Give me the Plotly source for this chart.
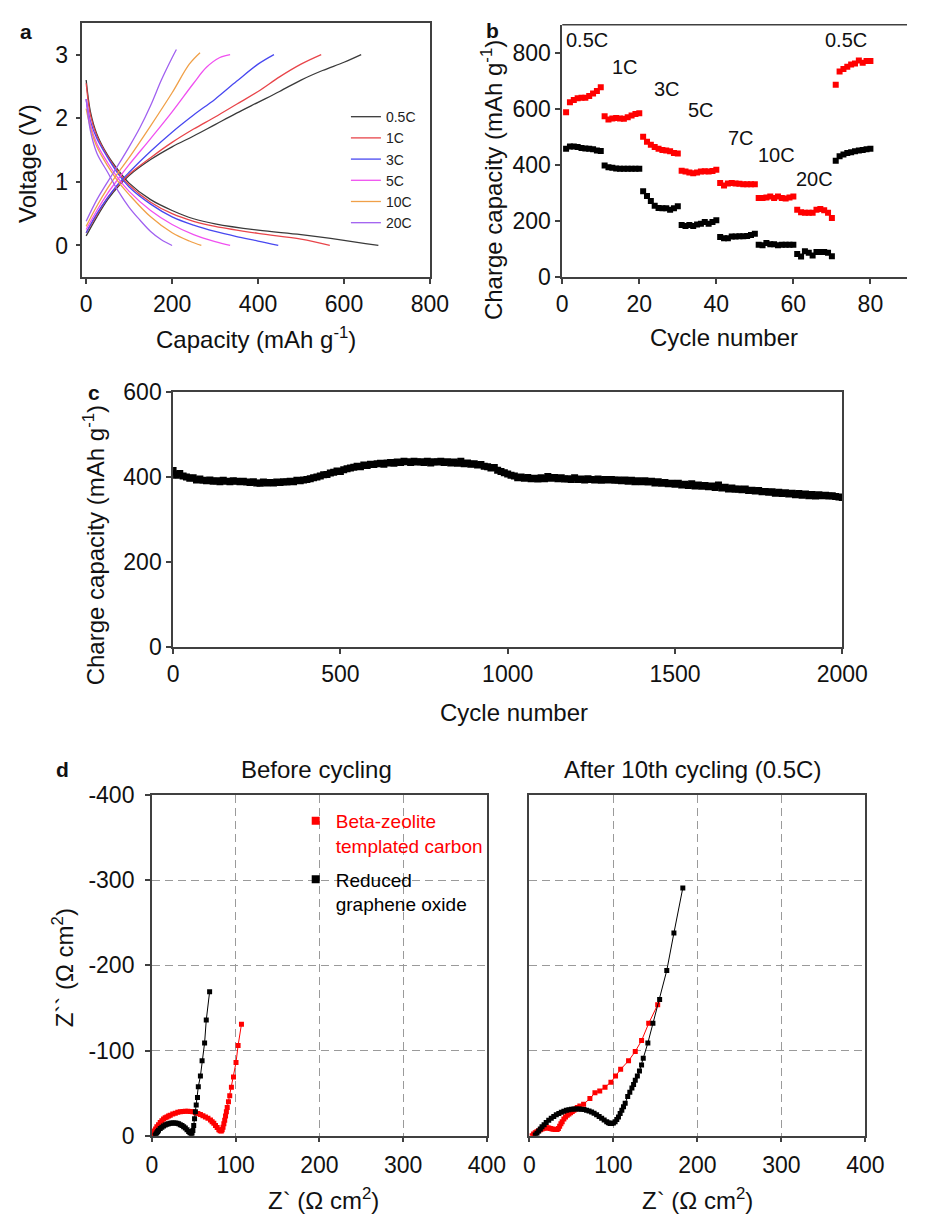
import plotly.graph_objects as go

W, H = 933, 1227
FONT = "Liberation Sans, Arial, sans-serif"

# ---------------- Panel a data: charge/discharge profiles ----------------
rates_a = ["0.5C", "1C", "3C", "5C", "10C", "20C"]
colors_a = ["#3a3a3a", "#e8454a", "#4848f0", "#f050f0", "#f0a048", "#a060f0"]

dis_cap = {
    "0.5C": [0, 10, 25, 50, 75, 100, 150, 200, 250, 300, 400, 500, 600, 650, 680],
    "1C":   [0, 10, 25, 50, 75, 100, 150, 200, 250, 300, 400, 500, 567],
    "3C":   [0, 10, 25, 50, 75, 100, 150, 200, 250, 300, 350, 400, 447],
    "5C":   [0, 10, 25, 50, 75, 100, 150, 200, 250, 300, 335],
    "10C":  [0, 10, 25, 50, 75, 100, 150, 200, 240, 268],
    "20C":  [0, 10, 25, 50, 75, 100, 125, 150, 175, 200],
}
dis_v = {
    "0.5C": [2.6, 2.1, 1.75, 1.42, 1.18, 0.98, 0.72, 0.55, 0.42, 0.34, 0.24, 0.17, 0.08, 0.03, 0.0],
    "1C":   [2.55, 2.05, 1.72, 1.40, 1.15, 0.95, 0.68, 0.50, 0.38, 0.30, 0.19, 0.10, 0.0],
    "3C":   [2.3, 1.95, 1.68, 1.38, 1.12, 0.92, 0.65, 0.45, 0.32, 0.22, 0.14, 0.07, 0.0],
    "5C":   [2.3, 1.9, 1.6, 1.3, 1.05, 0.85, 0.55, 0.33, 0.17, 0.06, 0.0],
    "10C":  [2.15, 1.85, 1.55, 1.25, 1.0, 0.8, 0.45, 0.2, 0.07, 0.0],
    "20C":  [2.3, 1.8, 1.45, 1.15, 0.85, 0.6, 0.4, 0.22, 0.09, 0.0],
}
chg_cap = {
    "0.5C": [0, 25, 50, 75, 100, 150, 200, 250, 300, 350, 400, 450, 500, 550, 600, 640],
    "1C":   [0, 25, 50, 75, 100, 150, 200, 250, 300, 350, 400, 450, 500, 547],
    "3C":   [0, 25, 50, 75, 100, 150, 200, 250, 300, 350, 400, 437],
    "5C":   [0, 25, 50, 75, 100, 150, 200, 250, 280, 310, 335],
    "10C":  [0, 25, 50, 75, 100, 150, 200, 240, 265],
    "20C":  [0, 25, 50, 75, 100, 125, 150, 175, 200, 210],
}
chg_v = {
    "0.5C": [0.15, 0.45, 0.72, 0.93, 1.1, 1.35, 1.55, 1.72, 1.9, 2.08, 2.25, 2.42, 2.6, 2.75, 2.88, 3.0],
    "1C":   [0.2, 0.48, 0.75, 0.95, 1.12, 1.38, 1.62, 1.83, 2.02, 2.22, 2.42, 2.65, 2.85, 3.0],
    "3C":   [0.2, 0.5, 0.75, 0.97, 1.15, 1.48, 1.78, 2.05, 2.3, 2.58, 2.85, 3.0],
    "5C":   [0.25, 0.55, 0.82, 1.05, 1.27, 1.68, 2.1, 2.55, 2.8, 2.95, 3.0],
    "10C":  [0.3, 0.62, 0.9, 1.15, 1.38, 1.88, 2.4, 2.85, 3.03],
    "20C":  [0.38, 0.72, 1.0, 1.27, 1.55, 1.85, 2.2, 2.6, 2.95, 3.08],
}

# ---------------- Panel b data: rate capability ----------------
cycles_b = list(range(1, 81))
btc_b = [588, 624, 632, 638, 640, 640, 646, 655, 664, 677,
         574, 562, 566, 568, 566, 565, 570, 577, 582, 585,
         501, 483, 472, 464, 458, 454, 452, 449, 443, 441,
         380, 377, 373, 371, 373, 377, 378, 377, 379, 383,
         336, 327, 334, 336, 334, 333, 332, 332, 332, 332,
         283, 283, 284, 288, 283, 288, 283, 281, 284, 288,
         241, 232, 230, 230, 230, 241, 243, 239, 230, 211,
         686, 733, 742, 750, 758, 762, 773, 765, 771, 771]
rgo_b = [458, 466, 466, 464, 461, 459, 458, 456, 452, 450,
         398, 392, 390, 388, 387, 387, 387, 387, 387, 387,
         307, 290, 272, 255, 247, 246, 246, 241, 246, 253,
         186, 183, 186, 183, 188, 191, 197, 191, 197, 203,
         144, 139, 139, 145, 145, 146, 146, 147, 151, 155,
         116, 114, 122, 118, 118, 114, 116, 116, 116, 116,
         83, 74, 93, 87, 78, 90, 90, 90, 87, 75,
         415, 431, 438, 443, 446, 449, 452, 454, 456, 458]
rate_labels_b = ["0.5C", "1C", "3C", "5C", "7C", "10C", "20C", "0.5C"]
rate_label_x = [6.3, 16.3, 27.3, 36, 46.4, 55.6, 65.6, 73.6]
rate_label_y = [845, 748, 671, 595, 497, 435, 351, 845]

# ---------------- Panel c data: long cycling ----------------
cycles_c = list(range(0, 2001, 10))
cap_c = [415, 404, 408, 402, 400, 397, 398, 393, 395, 392,
         391, 393, 390, 391, 389, 392, 390, 389, 391, 390,
         389, 390, 388, 387, 389, 386, 385, 388, 386, 387,
         386, 388, 387, 389, 388, 390, 389, 392, 391, 393,
         394, 396, 398, 400, 402, 405, 406, 409, 411, 414,
         413, 417, 419, 421, 423, 425, 424, 428, 427, 430,
         429, 431, 432, 430, 433, 434, 432, 435, 434, 437,
         436, 434, 437, 435, 436, 434, 437, 433, 436, 435,
         437, 434, 436, 433, 435, 432, 437, 431, 433, 430,
         431, 428, 429, 425, 424, 421, 422, 416, 413, 410,
         407, 404, 402, 398, 400, 397, 399, 396, 397, 395,
         398, 396, 401, 397, 399, 396, 398, 395, 396, 394,
         398, 394, 395, 393, 396, 394, 393, 395, 392, 394,
         393, 394, 392, 393, 391, 393, 390, 392, 389, 391,
         389, 391, 388, 390, 386, 389, 385, 387, 384, 385,
         383, 385, 381, 383, 380, 384, 379, 381, 378, 380,
         377, 379, 375, 381, 374, 376, 372, 374, 371, 372,
         370, 372, 368, 369, 367, 368, 365, 366, 364, 365,
         362, 364, 361, 363, 360, 362, 358, 361, 357, 360,
         356, 359, 355, 358, 356, 357, 355, 356, 354, 353,
         352]

# ---------------- Panel d data: impedance (Z' , Z'') ----------------
btc_before_zr = [1, 2, 3, 4.5, 6, 8, 10, 12, 14, 16, 18, 20, 22, 25, 28, 31, 34, 37, 40, 43, 46, 49,
                 52, 55, 58, 61, 64, 67, 70, 72, 74, 76, 78, 80, 81.5, 83, 84, 85, 86, 87, 88, 89,
                 90, 91.5, 93, 95, 97.5, 100.5, 103, 107]
btc_before_zi = [-0.5, -3, -5.5, -8, -10.5, -13, -15.5, -17.5, -19.5, -21, -22, -23, -24, -25.5, -26.5,
                 -27.5, -28, -28.5, -28.7, -28.7, -28.5, -28, -27, -26, -25, -23.5, -22, -20.5, -18.5,
                 -16.5, -14.5, -12, -9.5, -7, -5.8, -5.5, -7, -10, -14, -18, -23, -28, -33, -40, -47,
                 -57, -69, -86, -106, -131]
rgo_before_zr = [4, 5, 6, 7, 8, 10, 12, 14, 16, 18, 20, 22, 24, 26, 28, 30, 32, 34, 36, 38, 40, 42, 44,
                 45.5, 47, 48, 49, 50, 51, 52, 53, 54.5, 55.5, 58, 60, 63, 65, 69]
rgo_before_zi = [-0.5, -2, -3.5, -5, -6.5, -8.5, -10, -11.5, -12.5, -13.5, -14, -14.5, -15, -15, -15,
                 -14.5, -14, -13, -12, -10.5, -9, -7, -5, -3.5, -2.5, -3, -6, -12, -20, -28, -36,
                 -45, -57.5, -70, -88, -109, -136, -169]
btc_after_zr = [3, 5, 7, 9, 11, 13, 15, 17, 19, 21, 23, 25, 27, 29, 31, 33, 34.5, 36, 37.5, 39, 41, 43,
                45, 47, 49, 51, 53, 55, 57, 60, 64.5, 72, 78, 83.7, 90, 97, 102.5, 108.6, 118, 126,
                133.5, 142, 152.7]
btc_after_zi = [0, -2, -3.5, -4.6, -5.8, -7, -8, -8.6, -9, -9.2, -9, -8.5, -8, -7.5, -7.2, -7.3, -8.5,
                -11, -14, -16.5, -19.5, -22, -24, -25.6, -27, -28.5, -30, -31.4, -33, -35, -37, -43.6,
                -50.5, -52.4, -57, -62.8, -70, -78, -88, -99, -111.7, -132, -153.8]
rgo_after_zr = [7, 9, 11, 13, 15, 17.5, 20, 23, 26, 29, 32, 35, 38, 41, 44, 47, 50, 53, 56, 59, 62, 65,
                68, 71, 74, 77, 80, 83, 86, 89, 92, 94, 96, 98, 100, 102, 104, 106, 108, 110, 112, 114,
                117, 119.5, 122, 124, 126, 128.5, 131, 133.5, 135.5, 141, 147, 155, 163.5, 172, 182.6]
rgo_after_zi = [-0.8, -3, -5.5, -8, -10.5, -13, -15.5, -18, -20.5, -22.5, -24.5, -26, -27.5, -28.8,
                -29.8, -30.5, -31, -31.3, -31.4, -31.4, -31.2, -30.7, -30, -29, -27.8, -26.3, -24.5,
                -22.5, -20.5, -18.5, -16.5, -15.3, -14.4, -14.2, -15, -16.5, -19, -22, -26, -30, -34,
                -38, -46, -51, -56, -60, -65, -70, -76, -83, -91, -109, -132, -160, -194, -238, -291]
legend_names_d = ["Beta-zeolite<br>templated carbon", "Reduced<br>graphene oxide"]
colors_d = ["#ff0000", "#000000"]


def xd(a, b):
    return [a / W, b / W]


def yd(top, bottom):
    return [1 - bottom / H, 1 - top / H]


def px(x):
    return x / W


def py(y):
    return 1 - y / H


fig = go.Figure()

# Panel a traces
for r, c in zip(rates_a, colors_a):
    fig.add_trace(go.Scatter(x=chg_cap[r], y=chg_v[r], mode="lines", line=dict(color=c, width=1.3),
                             name=r, legendgroup=r, xaxis="x", yaxis="y", legend="legend",
                             line_shape="spline"))
    fig.add_trace(go.Scatter(x=dis_cap[r], y=dis_v[r], mode="lines", line=dict(color=c, width=1.3),
                             name=r, legendgroup=r, showlegend=False, xaxis="x", yaxis="y",
                             line_shape="spline"))

# Panel b traces
fig.add_trace(go.Scatter(x=cycles_b, y=btc_b, mode="markers", showlegend=False,
                         marker=dict(symbol="square", size=6, color="#ff0000"), xaxis="x2", yaxis="y2"))
fig.add_trace(go.Scatter(x=cycles_b, y=rgo_b, mode="markers", showlegend=False,
                         marker=dict(symbol="square", size=6, color="#000000"), xaxis="x2", yaxis="y2"))

# Panel c trace
fig.add_trace(go.Scatter(x=cycles_c, y=cap_c, mode="lines+markers", showlegend=False,
                         line=dict(color="#000000", width=5),
                         marker=dict(symbol="square", size=7, color="#000000"), xaxis="x3", yaxis="y3"))

# Panel d traces
for zr, zi, col, ax in [(btc_before_zr, btc_before_zi, colors_d[0], "4"),
                        (rgo_before_zr, rgo_before_zi, colors_d[1], "4"),
                        (btc_after_zr, btc_after_zi, colors_d[0], "5"),
                        (rgo_after_zr, rgo_after_zi, colors_d[1], "5")]:
    fig.add_trace(go.Scatter(x=zr, y=zi, mode="lines+markers", showlegend=False,
                             line=dict(color=col, width=1),
                             marker=dict(symbol="square", size=5, color=col),
                             xaxis="x" + ax, yaxis="y" + ax))

# Legend-only entries for panel d
for nm, col in zip(legend_names_d, colors_d):
    parts = nm.split("<br>")
    label = "<br>".join("<span style='color:%s'>%s</span>" % (col, p) for p in parts)
    fig.add_trace(go.Scatter(x=[None], y=[None], mode="markers", name=label, legend="legend2",
                             legendgroup=nm, marker=dict(symbol="square", size=8, color=col),
                             xaxis="x4", yaxis="y4"))

AX = dict(showline=True, linecolor="#404040", linewidth=1.5, ticks="outside", ticklen=5,
          tickcolor="#404040", tickwidth=1.5, showgrid=False, zeroline=False,
          tickfont=dict(family=FONT, size=23, color="#111"))

grid = dict(showgrid=True, gridcolor="#9a9a9a", gridwidth=1, griddash="8px,5px")

fig.update_layout(
    width=W, height=H, margin=dict(l=0, r=0, t=0, b=0),
    paper_bgcolor="white", plot_bgcolor="white",
    font=dict(family=FONT, size=16, color="#111"),
    xaxis=dict(AX, domain=xd(79, 439), range=[-9, 800], tickvals=[0, 200, 400, 600, 800],
               mirror=True, anchor="y"),
    yaxis=dict(AX, domain=yd(10, 270), range=[-0.5, 3.5], tickvals=[0, 1, 2, 3], mirror=True,
               anchor="x", ticklabelstandoff=3),
    xaxis2=dict(AX, domain=xd(576, 933), range=[0, 89.5], tickvals=[0, 20, 40, 60, 80], anchor="y2"),
    yaxis2=dict(AX, domain=yd(12, 270), range=[0, 900], tickvals=[0, 200, 400, 600, 800], anchor="x2"),
    xaxis3=dict(AX, domain=xd(173, 866), range=[0, 2000], tickvals=[0, 500, 1000, 1500, 2000],
                mirror=True, anchor="y3"),
    yaxis3=dict(AX, domain=yd(387, 648), range=[0, 600], tickvals=[0, 200, 400, 600], mirror=True,
                anchor="x3"),
    xaxis4=dict(AX, **grid, domain=xd(151, 498), range=[0, 400], tickvals=[0, 100, 200, 300, 400],
                mirror=True, anchor="y4", ticklabelstandoff=3),
    yaxis4=dict(AX, **grid, domain=yd(799, 1147), range=[0, -400], tickvals=[0, -100, -200, -300, -400],
                ticktext=["0", "-100", "-200", "-300", "-400"], mirror=True, anchor="x4",
                ticklabelstandoff=6),
    xaxis5=dict(AX, **grid, domain=xd(542, 890), range=[0, 400], tickvals=[0, 100, 200, 300, 400],
                mirror=True, anchor="y5", ticklabelstandoff=3),
    yaxis5=dict(AX, **grid, domain=yd(799, 1147), range=[0, -400], tickvals=[0, -100, -200, -300, -400],
                showticklabels=False, ticks="", mirror=True, anchor="x5"),
    legend=dict(x=px(352), y=py(90), xanchor="left", yanchor="top", bgcolor="rgba(0,0,0,0)",
                font=dict(family=FONT, size=14, color="#222"), tracegroupgap=0, itemwidth=30),
    legend2=dict(x=px(300), y=py(806), xanchor="left", yanchor="top", bgcolor="rgba(0,0,0,0)",
                 font=dict(family=FONT, size=19, color="#000"), tracegroupgap=6, valign="top",
                 itemwidth=30),
)

# top border line of panel b (right side runs off canvas)
fig.add_shape(type="line", xref="paper", yref="paper", x0=px(576), x1=1, y0=py(12), y1=py(12),
              line=dict(color="#404040", width=1.5))

ann = []


def text(x, y, s, size=24, bold=False, rot=0, color="#111", xanchor="center"):
    ann.append(dict(x=px(x), y=py(y), xref="paper", yref="paper", text=("<b>%s</b>" % s) if bold else s,
                    showarrow=False, textangle=rot, xanchor=xanchor, yanchor="middle",
                    font=dict(family=FONT, size=size, color=color)))


text(21, 19, "a", 21, bold=True)
text(504, 18, "b", 21, bold=True)
text(91, 388, "c", 21, bold=True)
text(59, 773, "d", 21, bold=True)

text(23, 154, "Voltage (V)", 24, rot=-90)
text(259, 332, "Capacity (mAh g<sup>-1</sup>)", 24)
text(504, 171, "Charge capacity (mAh g<sup>-1</sup>)", 24, rot=-90)
text(744, 332, "Cycle number", 24)
text(92, 544, "Charge capacity (mAh g<sup>-1</sup>)", 24, rot=-90)
text(526, 715, "Cycle number", 24)
text(322, 773, "Before cycling", 24)
text(711, 773, "After 10th cycling (0.5C)", 24)
text(59, 975, "Z`` (Ω cm<sup>2</sup>)", 24, rot=-90)
text(329, 1212, "Z` (Ω cm<sup>2</sup>)", 24)
text(716, 1212, "Z` (Ω cm<sup>2</sup>)", 24)

for s, x, y in zip(rate_labels_b, rate_label_x, rate_label_y):
    ann.append(dict(x=x, y=y, xref="x2", yref="y2", text=s, showarrow=False,
                    font=dict(family=FONT, size=20, color="#111")))

fig.update_layout(annotations=ann)
fig.write_html("out.html", config={"displayModeBar": False},
               post_script="document.body.style.margin='0';document.body.style.overflow='hidden';")
